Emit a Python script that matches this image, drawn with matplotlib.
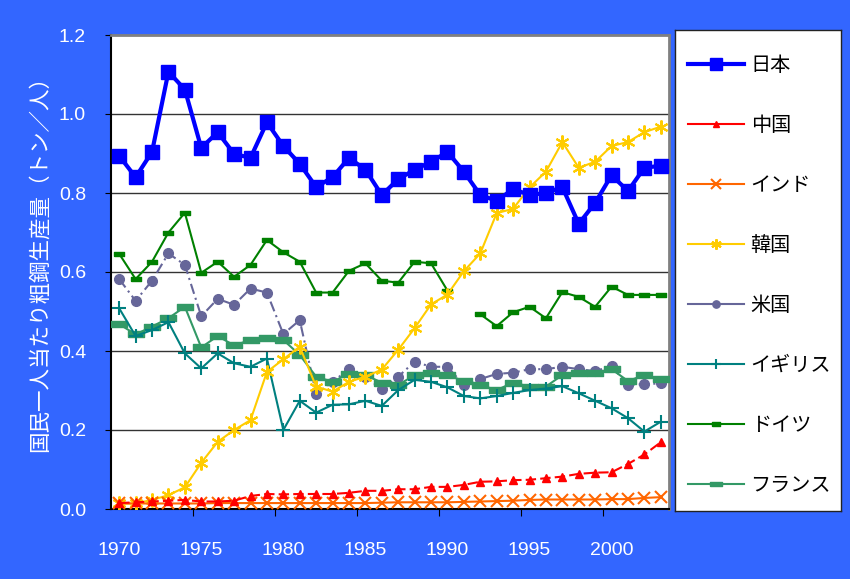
import numpy as np
import matplotlib
matplotlib.use("Agg")
import matplotlib.pyplot as plt
from matplotlib.lines import Line2D

plt.rcParams['font.family'] = ['Liberation Sans', 'Noto Sans CJK JP', 'DejaVu Sans']

years = list(range(1970, 2004))
nan = np.nan

japan = [0.894, 0.840, 0.904, 1.107, 1.062, 0.914, 0.954, 0.899, 0.889, 0.979,
         0.919, 0.874, 0.815, 0.840, 0.889, 0.859, 0.795, 0.835, 0.859, 0.879,
         0.904, 0.854, 0.795, 0.780, 0.810, 0.795, 0.800, 0.815, 0.722, 0.775,
         0.845, 0.805, 0.864, 0.869]
china = [0.015, 0.017, 0.019, 0.021, 0.023, 0.019, 0.019, 0.021, 0.033, 0.038,
         0.037, 0.038, 0.038, 0.038, 0.041, 0.046, 0.046, 0.050, 0.050, 0.056,
         0.056, 0.061, 0.069, 0.070, 0.073, 0.074, 0.078, 0.082, 0.089, 0.092,
         0.093, 0.114, 0.138, 0.169]
india = [0.014, 0.014, 0.014, 0.014, 0.014, 0.014, 0.015, 0.015, 0.015, 0.015,
         0.015, 0.015, 0.015, 0.015, 0.015, 0.015, 0.016, 0.017, 0.017, 0.017,
         0.017, 0.018, 0.019, 0.020, 0.021, 0.023, 0.024, 0.024, 0.024, 0.024,
         0.025, 0.025, 0.028, 0.030]
korea = [0.014, 0.014, 0.023, 0.035, 0.055, 0.117, 0.170, 0.200, 0.225, 0.347,
         0.379, 0.411, 0.310, 0.297, 0.322, 0.335, 0.353, 0.403, 0.458, 0.518,
         0.543, 0.602, 0.647, 0.749, 0.760, 0.814, 0.854, 0.929, 0.864, 0.879,
         0.919, 0.929, 0.954, 0.968]
usa = [0.582, 0.527, 0.578, 0.647, 0.618, 0.488, 0.532, 0.517, 0.558, 0.548,
       0.443, 0.478, 0.291, 0.322, 0.354, 0.335, 0.303, 0.335, 0.373, 0.360,
       0.360, 0.314, 0.329, 0.342, 0.345, 0.354, 0.354, 0.360, 0.354, 0.349,
       0.362, 0.314, 0.316, 0.318]
uk = [0.508, 0.438, 0.453, 0.473, 0.394, 0.356, 0.394, 0.369, 0.360, 0.381,
      0.200, 0.274, 0.244, 0.264, 0.265, 0.274, 0.261, 0.301, 0.327, 0.322,
      0.308, 0.286, 0.280, 0.286, 0.294, 0.301, 0.305, 0.311, 0.293, 0.274,
      0.255, 0.230, 0.196, 0.221]
germany = [0.646, 0.582, 0.626, 0.700, 0.750, 0.598, 0.626, 0.588, 0.618, 0.681,
           0.650, 0.626, 0.548, 0.548, 0.603, 0.622, 0.578, 0.573, 0.626, 0.622,
           0.553, nan, 0.493, 0.463, 0.498, 0.512, 0.483, 0.549, 0.537, 0.512,
           0.563, 0.542, 0.542, 0.542]
france = [0.468, 0.442, 0.462, 0.483, 0.512, 0.409, 0.438, 0.414, 0.428, 0.433,
          0.428, 0.390, 0.335, 0.322, 0.343, 0.339, 0.320, 0.314, 0.339, 0.345,
          0.339, 0.324, 0.314, 0.301, 0.320, 0.310, 0.310, 0.339, 0.345, 0.345,
          0.354, 0.324, 0.339, 0.329]

labels = ['日本', '中国', 'インド', '韓国', '米国', 'イギリス', 'ドイツ', 'フランス']
xtick_labels = ['1970', '1975', '1980', '1985', '1990', '1995', '2000']
ylabel = '国民一人当たり粗鋼生産量（トン／人）'

BG = '#3366FF'
asterisk = (6, 2, 0)
wide_dash = [(-1.5, -0.5), (1.5, -0.5), (1.5, 0.5), (-1.5, 0.5), (-1.5, -0.5)]
small_dash = [(-1.0, -0.5), (1.0, -0.5), (1.0, 0.5), (-1.0, 0.5), (-1.0, -0.5)]

styles = [
    dict(color='#0000FF', lw=3.0, marker='s', ms=9.5, ls='-'),
    dict(color='#FF0000', lw=1.5, marker='^', ms=6, ls=(0, (5, 2))),
    dict(color='#FF6600', lw=1.5, marker='x', ms=9, mew=1.5, ls='-'),
    dict(color='#FFCC00', lw=1.5, marker=asterisk, ms=10, mew=1.5, ls='-'),
    dict(color='#666699', lw=1.5, marker='o', ms=7, ls=(0, (5, 2, 1, 2))),
    dict(color='#008080', lw=1.5, marker='+', ms=10, mew=1.5, ls='-'),
    dict(color='#008000', lw=1.5, marker=small_dash, ms=7, ls='-'),
    dict(color='#339966', lw=1.5, marker=wide_dash, ms=12, ls='-'),
]
series = [japan, china, india, korea, usa, uk, germany, france]

fig = plt.figure(figsize=(8.5, 5.79), dpi=100, facecolor=BG)
ax = fig.add_axes([111/850, 1-509/579, (669-111)/850, (509-35)/579])
ax.set_facecolor('white')

order = [6, 4, 7, 5, 3, 2, 1, 0]
for i in order:
    st = dict(styles[i])
    ax.plot(years, series[i], color=st['color'], lw=st['lw'], ls=st['ls'],
            marker=st['marker'], ms=st['ms'], mew=st.get('mew', 1.0),
            mfc=st['color'], mec=st['color'], zorder=3 + (1 if i == 0 else 0))

ax.set_xlim(1969.5, 2003.5)
ax.set_ylim(0, 1.2)
ax.set_yticks([0, 0.2, 0.4, 0.6, 0.8, 1.0, 1.2])
ax.set_yticklabels(['0.0', '0.2', '0.4', '0.6', '0.8', '1.0', '1.2'])
for yv in [0.2, 0.4, 0.6, 0.8, 1.0]:
    ax.axhline(yv, color='#333333', lw=1.0, zorder=1)

ax.set_xticks([1974.5, 1979.5, 1984.5, 1989.5, 1994.5, 1999.5])
ax.set_xticklabels([])
ax.set_xticks([int(s) for s in xtick_labels], minor=True)
ax.set_xticklabels(xtick_labels, minor=True)
ax.tick_params(axis='x', which='major', length=5, color='black', direction='out')
ax.tick_params(axis='x', which='minor', length=0, pad=24, labelcolor='white', labelsize=14)
ax.tick_params(axis='y', length=4, color='black', direction='out', pad=14,
               labelcolor='white', labelsize=14)

for s in ['left', 'bottom']:
    ax.spines[s].set_color('black')
    ax.spines[s].set_linewidth(1.5)
for s in ['top', 'right']:
    ax.spines[s].set_color('#808080')
    ax.spines[s].set_linewidth(2.0)

fig.text(40/850, 1-259/579, ylabel, rotation=90, ha='center', va='center',
         color='white', fontsize=15.5)

# legend box
lax = fig.add_axes([675/850, 1-511/579, 166/850, 481/579])
lax.set_facecolor('white')
lax.set_xticks([]); lax.set_yticks([])
for s in lax.spines.values():
    s.set_color('#222222'); s.set_linewidth(1.0)
handles = []
for st in styles:
    handles.append(Line2D([0], [0], color=st['color'], lw=st['lw'] if st['lw'] > 2 else 1.5,
                          ls='-', marker=st['marker'],
                          ms=st['ms'] * 0.75 if st['lw'] < 2 else st['ms'] * 0.85,
                          mew=st.get('mew', 1.0), mfc=st['color'], mec=st['color']))
lax.legend(handles, labels, loc='center left', bbox_to_anchor=(0.0, 0.4896),
           frameon=False, fontsize=14.5, handlelength=2.8, handletextpad=0.3,
           labelspacing=2.03, borderaxespad=0.25, numpoints=1)

fig.savefig('out.png', dpi=100, facecolor=BG)
